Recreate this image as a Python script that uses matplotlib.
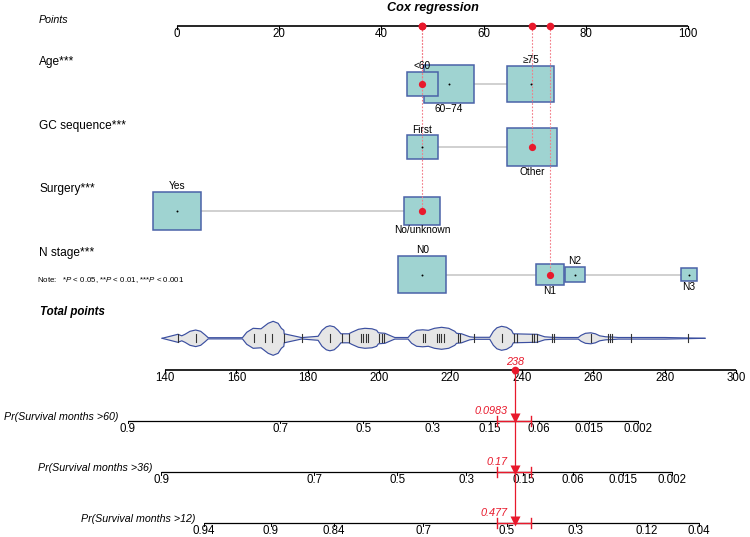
import numpy as np
import matplotlib
matplotlib.use("Agg")
import matplotlib.pyplot as plt
from matplotlib.patches import Rectangle
from matplotlib import transforms

plt.rcParams['font.family'] = ['Liberation Sans', 'DejaVu Sans']
plt.rcParams['mathtext.fontset'] = 'custom'
plt.rcParams['mathtext.it'] = 'Liberation Sans:italic'
plt.rcParams['mathtext.rm'] = 'Liberation Sans'

# ---------------- data ----------------
title = "Cox regression"
point_ticks = [0, 20, 40, 60, 80, 100]
total_ticks = [140, 160, 180, 200, 220, 240, 260, 280, 300]

var_names = ["Age***", "GC sequence***", "Surgery***", "N stage***"]

age_levels = ["<60", "60\u221274", "\u226575"]
age_points = [48.0, 53.2, 69.2]
age_freq = [5.9, 15.0, 13.2]

gc_levels = ["First", "Other"]
gc_points = [48.0, 69.5]
gc_freq = [5.6, 14.7]

surg_levels = ["Yes", "No/unknown"]
surg_points = [0.0, 48.0]
surg_freq = [14.2, 7.7]

n_levels = ["N0", "N1", "N2", "N3"]
n_points = [48.0, 72.9, 77.9, 100.2]
n_freq = [14.1, 4.7, 2.25, 1.6]

selected = [0, 1, 1, 1]   # chosen level for each variable

total_points = 238

pr_labels = ["Pr(Survival months >60)", "Pr(Survival months >36)",
             "Pr(Survival months >12)"]
pr_pred = [0.0983, 0.17, 0.477]
pr_pred_text = ["0.0983", "0.17", "0.477"]
pr_ci_lo = [0.133, 0.214, 0.525]
pr_ci_hi = [0.072, 0.133, 0.431]
pr_ticks = [
    ["0.9", "0.7", "0.5", "0.3", "0.15", "0.06", "0.015", "0.002"],
    ["0.9", "0.7", "0.5", "0.3", "0.15", "0.06", "0.015", "0.002"],
    ["0.94", "0.9", "0.84", "0.7", "0.5", "0.3", "0.12", "0.04"],
]
lp_per_point = 0.0285   # log-hazard change per total point

# total-points distribution (violin outline)
violin_tp = [139.2, 143.6, 144.7, 145.6, 147.0, 148.6, 150.0, 151.2, 152.1, 161.7,
             162.9, 164.7, 166.9, 168.9, 170.3, 171.7, 172.6, 173.3, 173.4, 178.3,
             182.9, 184.0, 185.2, 186.2, 187.4, 188.5, 189.3, 191.5, 192.3, 194.2,
             196.0, 198.0, 199.3, 199.8, 201.6, 203.9, 204.4, 208.1, 209.1, 210.5,
             212.2, 213.8, 215.5, 217.5, 219.5, 221.2, 221.7, 223.1, 225.4, 226.6,
             231.0, 232.0, 233.0, 234.3, 235.7, 237.1, 237.6, 243.6, 244.2, 246.4,
             248.5, 251.1, 255.8, 256.6, 257.8, 259.3, 260.6, 261.8, 263.5, 265.5,
             267.0, 280.0, 291.3]
violin_density = [0, 4, 2.5, 4, 7, 8.3, 7, 3.5, 0.6, 0.6,
                  6, 10, 9.5, 15, 17, 15, 10, 8, 4.5, 0.7,
                  2, 8, 11.5, 12.5, 11.5, 8, 4.5, 4.5, 6, 9,
                  10, 9.5, 8, 5.5, 5, 1.5, 0.8, 0.8, 5, 8,
                  8.5, 8, 10, 11, 10, 7, 5, 4.5, 1.5, 1,
                  1, 7, 10.5, 12, 11, 8, 4.5, 4, 4, 1.5,
                  1, 0.8, 0.8, 3, 5, 5.5, 4.5, 2.5, 1.5, 1.2,
                  0.8, 0.8, 0]
rug_tp = [143.6, 148.6, 164.8, 168.0, 170.1, 173.4, 178.3, 186.2, 189.5, 191.5,
          194.9, 195.5, 196.2, 196.8, 200.0, 200.7, 201.3, 212.2, 212.8, 216.1,
          216.8, 217.4, 218.1, 222.0, 222.7, 226.6, 234.3, 237.9, 238.6, 242.7,
          243.4, 244.1, 248.3, 249.0, 259.3, 264.2, 264.6, 265.3, 270.7, 286.6]

# ---------------- styles / layout ----------------
W, H = 750, 537
RED = '#e8192c'
PINK = '#f27b86'
BOX_FILL = '#9fd3d1'
BOX_EDGE = '#4a62a8'
GREY = '#c8c8c8'
VIO_FILL = '#e6e6e6'
VIO_EDGE = '#3b4fa0'

PT_X0, PT_PX = 177.0, 5.11      # points scale: pixel of 0, px per point
TP_X0, TP_PX = 165.0, 3.569     # total points scale: pixel of 140, px per point

fig = plt.figure(figsize=(7.5, 5.37), dpi=100, facecolor='white')
ax = fig.add_axes([0, 0, 1, 1])
ax.set_xlim(-PT_X0 / PT_PX, (W - PT_X0) / PT_PX)
ax.set_ylim(H, 0)
ax.axis('off')
axb = fig.add_axes([0, 0, 1, 1])
axb.patch.set_visible(False)
axb.set_xlim(140 - TP_X0 / TP_PX, 140 + (W - TP_X0) / TP_PX)
axb.set_ylim(H, 0)
axb.axis('off')

tr_top = transforms.blended_transform_factory(fig.transFigure, ax.transData)
tr_bot = transforms.blended_transform_factory(fig.transFigure, axb.transData)

FS_TICK = 8.3
# title
ax.text(433 / W, 8, title, transform=tr_top, ha='center', va='center',
        fontsize=9.1, fontweight='bold', fontstyle='italic')

# points axis
y_pts = 26
ax.text(39 / W, 20, "Points", transform=tr_top, ha='left', va='center',
        fontsize=7.7, fontstyle='italic')
ax.plot([point_ticks[0], point_ticks[-1]], [y_pts, y_pts], color='black', lw=1.2,
        solid_capstyle='butt')
for t in point_ticks:
    ax.plot([t, t], [y_pts, y_pts + 3], color='black', lw=0.8)
    ax.text(t, y_pts + 7.8, str(t), ha='center', va='center', fontsize=FS_TICK)

rows_y = [84, 147.3, 210.7, 274.5]
levels_all = [age_levels, gc_levels, surg_levels, n_levels]
points_all = [age_points, gc_points, surg_points, n_points]
freq_all = [age_freq, gc_freq, surg_freq, n_freq]

for vi, (name, levs, pts, frq, ry) in enumerate(zip(var_names, levels_all, points_all,
                                                  freq_all, rows_y)):
    ax.text(39 / W, ry - 21.5, name, transform=tr_top, ha='left', va='center',
            fontsize=8.6)
    ax.plot([min(pts), max(pts)], [ry, ry], color=GREY, lw=1.2, zorder=1)
    for li, (lab, p, f) in enumerate(zip(levs, pts, frq)):
        h = 10 * np.sqrt(f)
        w = 1.29 * h / PT_PX
        ax.add_patch(Rectangle((p - w / 2, ry - h / 2), w, h, facecolor=BOX_FILL,
                               edgecolor=BOX_EDGE, lw=1.1, zorder=3 - li * 0.1))
        if li % 2 == 0:
            ax.text(p, ry - h / 2 - 5.8, lab, ha='center', va='center', fontsize=7.3,
                    zorder=5)
        else:
            ax.text(p, ry + h / 2 + 5.8, lab, ha='center', va='center', fontsize=7.3,
                    zorder=5)
        if li == selected[vi]:
            ax.plot(p, ry, 'o', color=RED, ms=5.2, mec='none', zorder=6)
            ax.plot([p, p], [y_pts, ry], color=PINK, lw=0.8, ls=(0, (1.5, 1.5)),
                    zorder=4)
            ax.plot(p, y_pts, 'o', color=RED, ms=5.5, mec='none', zorder=6)
        else:
            ax.plot(p, ry, 'o', color='black', ms=1.4, mec='none', zorder=6)

ax.text(37 / W, 280, "Note:   *$P$ < 0.05, **$P$ < 0.01, ***$P$ < 0.001",
        transform=tr_top, ha='left', va='center', fontsize=5.7)

# total points
axb.text(40 / W, 311.7, "Total points", transform=tr_bot, ha='left', va='center',
         fontsize=8.3, fontweight='bold', fontstyle='italic')
yv = 338.3
vd = np.array(violin_density)
axb.fill_between(violin_tp, yv - vd, yv + vd, facecolor=VIO_FILL, edgecolor='none',
                 zorder=2)
axb.plot(violin_tp, yv - vd, color=VIO_EDGE, lw=0.85, zorder=3)
axb.plot(violin_tp, yv + vd, color=VIO_EDGE, lw=0.85, zorder=3)
for r in rug_tp:
    axb.plot([r, r], [yv - 4, yv + 4], color='#333333', lw=0.8, zorder=4)

y_tot = 370
axb.plot([total_ticks[0], total_ticks[-1]], [y_tot, y_tot], color='black', lw=1.2,
         solid_capstyle='butt')
for t in total_ticks:
    axb.plot([t, t], [y_tot, y_tot + 2.5], color='black', lw=0.8)
    axb.text(t, y_tot + 7.8, str(t), ha='center', va='center', fontsize=FS_TICK)
axb.plot(total_points, y_tot, 'o', color=RED, ms=5.5, mec='none', zorder=6)
axb.text(total_points, y_tot - 8, str(total_points), ha='center', va='center',
         fontsize=7.8, fontstyle='italic', color=RED)


# probability scales (Cox model: log(-log S) linear in total points)
def tp_of(prob, ref_prob):
    return total_points + (np.log(-np.log(prob)) - np.log(-np.log(ref_prob))) / lp_per_point


pr_y = [420.7, 472.0, 523.3]
for lab, pred, ptxt, lo, hi, ticks, yl in zip(pr_labels, pr_pred, pr_pred_text,
                                               pr_ci_lo, pr_ci_hi, pr_ticks, pr_y):
    xs = [tp_of(float(t), pred) for t in ticks]
    axb.plot([xs[0], xs[-1]], [yl, yl], color='black', lw=0.9, solid_capstyle='butt')
    for x, t in zip(xs, ticks):
        axb.plot([x, x], [yl, yl + 2.5], color='black', lw=0.7)
        axb.text(x, yl + 8, t, ha='center', va='center', fontsize=FS_TICK)
    axb.text(xs[0] - 9 / TP_PX, yl - 4, lab, ha='right', va='center', fontsize=7.7,
             fontstyle='italic')
    xl, xh = tp_of(lo, pred), tp_of(hi, pred)
    axb.plot([xl, xh], [yl, yl], color=RED, lw=1.0, zorder=5)
    axb.plot([xl, xl], [yl - 5, yl + 5], color=RED, lw=1.0, zorder=5)
    axb.plot([xh, xh], [yl - 5, yl + 5], color=RED, lw=1.0, zorder=5)
    axb.plot(total_points, yl - 2.5, 'v', color=RED, ms=7.5, mec='none', zorder=6)
    axb.text(total_points - 7 / TP_PX, yl - 10, ptxt, ha='right', va='center',
             fontsize=7.8, fontstyle='italic', color=RED)

axb.plot([total_points, total_points], [y_tot, pr_y[-1] - 2.5], color=RED, lw=0.9,
         zorder=5)

fig.savefig('out.png', dpi=100, facecolor='white')
